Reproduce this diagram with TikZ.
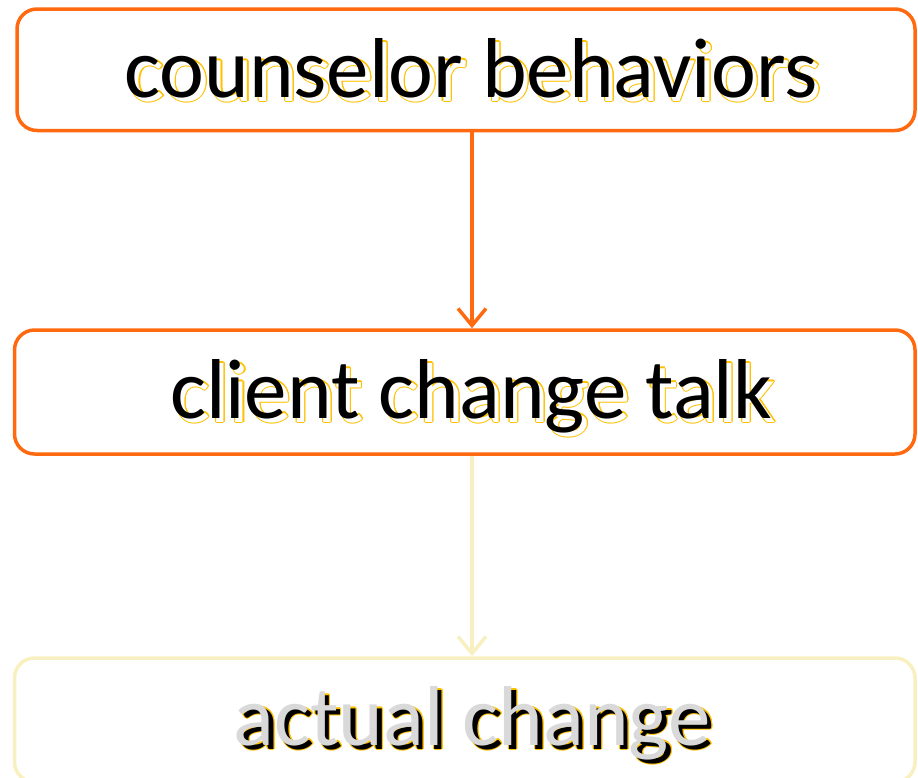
\documentclass[tikz,border=0pt]{standalone}
\usepackage{fontspec}
\setmainfont{Carlito}
\usetikzlibrary{arrows.meta,calc}
\definecolor{orng}{HTML}{FF6A10}
\definecolor{paley}{HTML}{F8F0C0}
\definecolor{shyel}{HTML}{FFC000}
\definecolor{lgray}{HTML}{D9D9D9}
\newcommand\shtext[6]{%
  \foreach \a in {0,30,...,330}{%
    \node[txt,text=shyel] (#1o\a) at ($(#2,#3)+(4.5,4)+(\a:1.1)$) {#6};}
  \node[txt,text=#5] (#1s) at ($(#2,#3)+(4.5,4)$) {#6};
  \node[txt,text=#4] (#1) at (#2,#3) {#6};
}
\begin{document}
\begin{tikzpicture}[x=1pt,y=-1pt,
  box/.style={draw, rounded corners=20pt, line width=3.5pt, inner sep=0pt, minimum width=898pt},
  txt/.style={anchor=base, inner sep=0pt, font=\fontsize{85}{100}\selectfont},
  conn/.style={line width=3.5pt, -{Straight Barb[length=17pt,width=28pt]}}]
\useasboundingbox (0,0) rectangle (918,777);
\clip (0,0) rectangle (918,777);
\node[box, draw=orng, minimum width=898pt, minimum height=121.5pt] (b1) at (466,69.75) {};
\node[box, draw=orng, minimum width=900.5pt, minimum height=124pt] (b2) at (464.75,392) {};
\node[box, draw=paley, minimum width=900.5pt, minimum height=124pt] (b3) at (464.75,720) {};
\draw[conn, orng] (b1.south -| 472,0) -- (b2.north -| 472,0);
\draw[conn, paley] (b2.south -| 472,0) -- (b3.north -| 472,0);
\shtext{t1}{471}{97}{black}{white}{counselor behaviors}
\shtext{t2}{471}{418}{black}{white}{client change talk}
\shtext{t3}{472}{745}{lgray}{black}{actual change}
\end{tikzpicture}
\end{document}
